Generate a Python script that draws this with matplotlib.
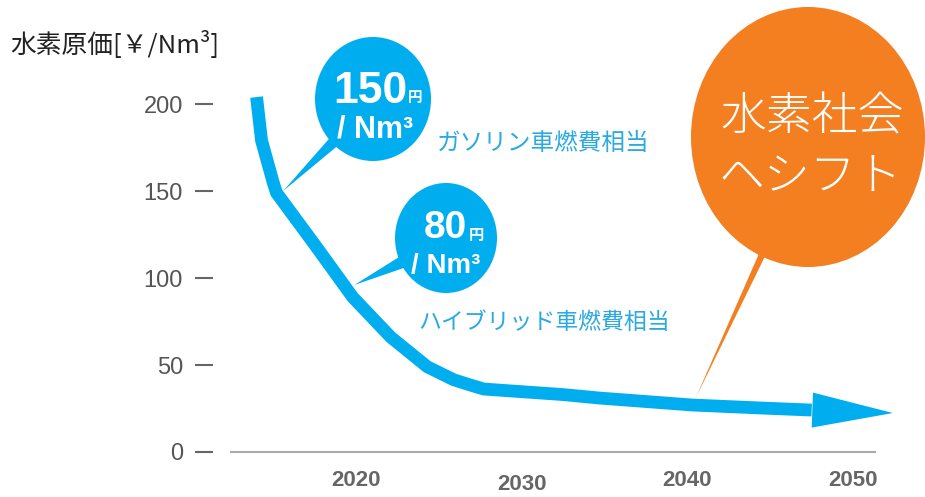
import numpy as np
import matplotlib
matplotlib.use("Agg")
import matplotlib.pyplot as plt
from matplotlib.patches import Ellipse, Polygon, FancyArrowPatch
from matplotlib.transforms import ScaledTranslation

# hydrogen supply cost path, yen per Nm3 (last point = arrow tip)
years = [2014.0, 2014.3, 2015.0, 2015.2, 2017.6, 2019.8, 2022.1, 2024.3, 2025.9,
         2026.9, 2027.7, 2032.5, 2034.7, 2040.3, 2044.4, 2047.5, 2052.4]
costs = [204, 179, 155, 149, 118, 89, 66, 49, 41.5,
         38.5, 36.2, 33, 31, 27, 25.3, 24.1, 22.4]

ytick_vals = [0, 50, 100, 150, 200]
xtick_years = [2020, 2030, 2040, 2050]

price_marks = ["150", "80"]
unit_text = "/ Nm³"
yen = "円"
captions = ["ガソリン車燃費相当", "ハイブリッド車燃費相当"]
goal_lines = ["水素社会", "ヘシフト"]
ylabel = "水素原価[￥/Nm³]"

BLUE = "#00AEEF"
CAPBLUE = "#2BA9E1"
ORANGE = "#F37F21"
JP = ["Noto Sans CJK JP", "DejaVu Sans"]
NUM = ["Liberation Sans", "DejaVu Sans"]

fig = plt.figure(figsize=(9.25, 4.97), dpi=100)
W, H = 925, 497

ax = fig.add_axes([213 / W, 29 / H, 712 / W, 468 / H])
ax.set_xlim(2011.37, 2054.34)
ax.set_ylim(-9.2, 259.8)
ax.patch.set_visible(False)
for s in ax.spines.values():
    s.set_visible(False)

# baseline
ax.hlines(0, 2012.4, 2051.4, color="#aaaaaa", lw=1.5, zorder=1)

# cost curve + arrow head
ax.plot(years[:-1], costs[:-1], color=BLUE, lw=9.2,
        solid_joinstyle="round", solid_capstyle="butt", zorder=3)
head = FancyArrowPatch((years[-2], costs[-2]), (years[-1], costs[-1]),
                       arrowstyle="-|>,head_length=58,head_width=12.6",
                       mutation_scale=1, lw=0, color=BLUE,
                       shrinkA=0, shrinkB=0, zorder=3)
ax.add_patch(head)

ax.set_yticks(ytick_vals)
ax.tick_params(axis="y", length=13, width=1.5, color="#666666", pad=8.6,
               labelsize=17, labelcolor="#555555")
for lab in ax.get_yticklabels():
    lab.set_fontfamily(NUM)

ax.set_xticks(xtick_years)
ax.tick_params(axis="x", length=0, pad=1.5, labelsize=16, labelcolor="#666666")
for lab in ax.get_xticklabels():
    lab.set_fontfamily(NUM)
    lab.set_fontweight("bold")
# 2030 sits a little lower
t2030 = ax.xaxis.get_major_ticks()[1].label1
t2030.set_transform(t2030.get_transform() + ScaledTranslation(0, -4 / 100, fig.dpi_scale_trans))

# pixel overlay for the callouts
ov = fig.add_axes([0, 0, 1, 1], zorder=5)
ov.set_xlim(0, W)
ov.set_ylim(H, 0)
ov.axis("off")


def to_px(x, y):
    d = ax.transData.transform((x, y))
    return ov.transData.inverted().transform(d)


def callout(cx, cy, rx, ry, tip, spread, color):
    tx, ty = to_px(*tip)
    ang = np.arctan2(ty - cy, tx - cx)
    base = [(cx + 0.95 * rx * np.cos(a), cy + 0.95 * ry * np.sin(a))
            for a in (ang - spread, ang + spread)]
    ov.add_patch(Polygon([base[0], (tx, ty), base[1]], closed=True, fc=color, ec="none"))
    ov.add_patch(Ellipse((cx, cy), 2 * rx, 2 * ry, fc=color, ec="none"))


callout(373, 99, 58, 62, (2015.6, 150), 0.10, BLUE)
callout(446, 238, 51, 55, (2019.9, 96), 0.12, BLUE)
callout(808, 137, 117, 130, (2040.5, 31), 0.03, ORANGE)

# 150 yen bubble
ov.text(407, 103, price_marks[0], color="white", fontsize=32, fontweight="bold",
        family=NUM, ha="right", va="baseline")
ov.text(408, 102, yen, color="white", fontsize=10.5, fontweight="bold",
        family=JP, ha="left", va="baseline")
ov.text(375, 137, unit_text, color="white", fontsize=22, fontweight="bold",
        family=NUM, ha="center", va="baseline")

# 80 yen bubble
ov.text(467, 238, price_marks[1], color="white", fontsize=28, fontweight="bold",
        family=NUM, ha="right", va="baseline")
ov.text(469, 240, yen, color="white", fontsize=11, fontweight="bold",
        family=JP, ha="left", va="baseline")
ov.text(446, 273, unit_text, color="white", fontsize=20, fontweight="bold",
        family=NUM, ha="center", va="baseline")

ov.text(437, 143, captions[0], color=CAPBLUE, fontsize=17, family=JP,
        ha="left", va="center")
ov.text(418, 322, captions[1], color=CAPBLUE, fontsize=16.5, family=JP,
        ha="left", va="center")

ov.text(812, 118, goal_lines[0], color="white", fontsize=33, fontweight="light",
        family=JP, ha="center", va="center")
ov.text(810, 177, goal_lines[1], color="white", fontsize=33, fontweight="light",
        family=JP, ha="center", va="center")

ov.text(10, 45, ylabel, color="#222222", fontsize=18.5, family=JP,
        ha="left", va="center")

fig.savefig("out.png", dpi=100)
